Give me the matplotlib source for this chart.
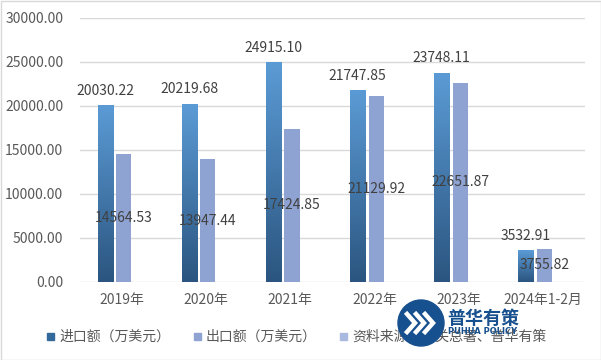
import numpy as np
import matplotlib.pyplot as plt
from matplotlib.colors import LinearSegmentedColormap
from matplotlib.patches import Circle, Rectangle

plt.rcParams['font.family'] = ['Noto Sans CJK SC', 'DejaVu Sans']

categories = ["2019年", "2020年", "2021年", "2022年", "2023年", "2024年1-2月"]
imports = [20030.22, 20219.68, 24915.10, 21747.85, 23748.11, 3532.91]
exports = [14564.53, 13947.44, 17424.85, 21129.92, 22651.87, 3755.82]
yticks = [0, 5000, 10000, 15000, 20000, 25000, 30000]
legend_labels = ["进口额（万美元）", "出口额（万美元）", "资料来源：海关总署、普华有策"]

TEXT = "#404040"
GRID = "#d9d9d9"
EXPORT_COLOR = "#8fa3d3"
LOGO = "#17508e"
grad = LinearSegmentedColormap.from_list("imp", ["#2b5580", "#5b9bd5"])

fig = plt.figure(figsize=(6.01, 3.6), dpi=100)
ax = fig.add_axes([0.133, 0.2167, 0.84, 0.7333])

x = np.arange(len(categories))
w = 0.18
imp_x = x - 0.2
exp_x = x + 0.02

# import bars drawn as vertical gradients
gradient = np.linspace(0, 1, 256).reshape(-1, 1)
for xi, v in zip(imp_x, imports):
    ax.imshow(gradient, extent=[xi - w / 2, xi + w / 2, 0, v], origin="lower",
              aspect="auto", cmap=grad, zorder=3)
    ax.text(xi, v + 900, f"{v:.2f}", ha="center", va="bottom",
            fontsize=10, color=TEXT, zorder=5)

ax.bar(exp_x, exports, width=w, color=EXPORT_COLOR, zorder=3)
for xi, v in zip(exp_x, exports):
    ax.text(xi, v / 2, f"{v:.2f}", ha="center", va="center",
            fontsize=10, color=TEXT, zorder=5)

ax.set_xlim(-0.5, len(categories) - 0.5)
ax.set_ylim(0, 30000)
ax.set_yticks(yticks)
ax.set_yticklabels([f"{t:.2f}" for t in yticks])
ax.set_xticks(x)
ax.set_xticklabels(categories)
ax.tick_params(axis="both", length=0, labelsize=10, colors="#595959")
ax.tick_params(axis="y", pad=12)
ax.tick_params(axis="x", pad=8)
ax.grid(axis="y", color=GRID, linewidth=1, zorder=0)
for s in ax.spines.values():
    s.set_visible(False)

# overlay in pixel coordinates for legend and watermark
over = fig.add_axes([0, 0, 1, 1], facecolor="none")
over.set_xlim(0, 601)
over.set_ylim(360, 0)
over.axis("off")

legend_colors = ["#34699c", EXPORT_COLOR, "#a9b9df"]
legend_x = [47, 194, 340]
for lx, lab, col in zip(legend_x, legend_labels, legend_colors):
    over.add_patch(Rectangle((lx, 333), 7, 7, color=col))
    over.text(lx + 12, 336.5, lab, fontsize=10, color="#595959",
              ha="left", va="center")

# watermark logo
cx, cy = 421, 323
over.add_patch(Circle((cx, cy), 23, color=LOGO, zorder=10))
for dx in (-9, 0, 9):
    over.plot([cx + dx - 5, cx + dx + 3, cx + dx - 5],
              [cy - 9, cy, cy + 9], color="white", lw=3.2,
              solid_joinstyle="miter", zorder=11)
over.text(447, 318, "普华有策", color=LOGO, fontsize=13, fontweight="bold",
          ha="left", va="center", zorder=11)
over.text(448, 332, "PUHUA POLICY", color=LOGO, fontsize=6, fontweight="bold",
          ha="left", va="center", zorder=11, family="DejaVu Sans")

fig.patches.append(Rectangle((0.5, 0.5), 600, 359, transform=None, fill=False,
                             edgecolor=GRID, linewidth=1))

fig.savefig("out.png", dpi=100)
